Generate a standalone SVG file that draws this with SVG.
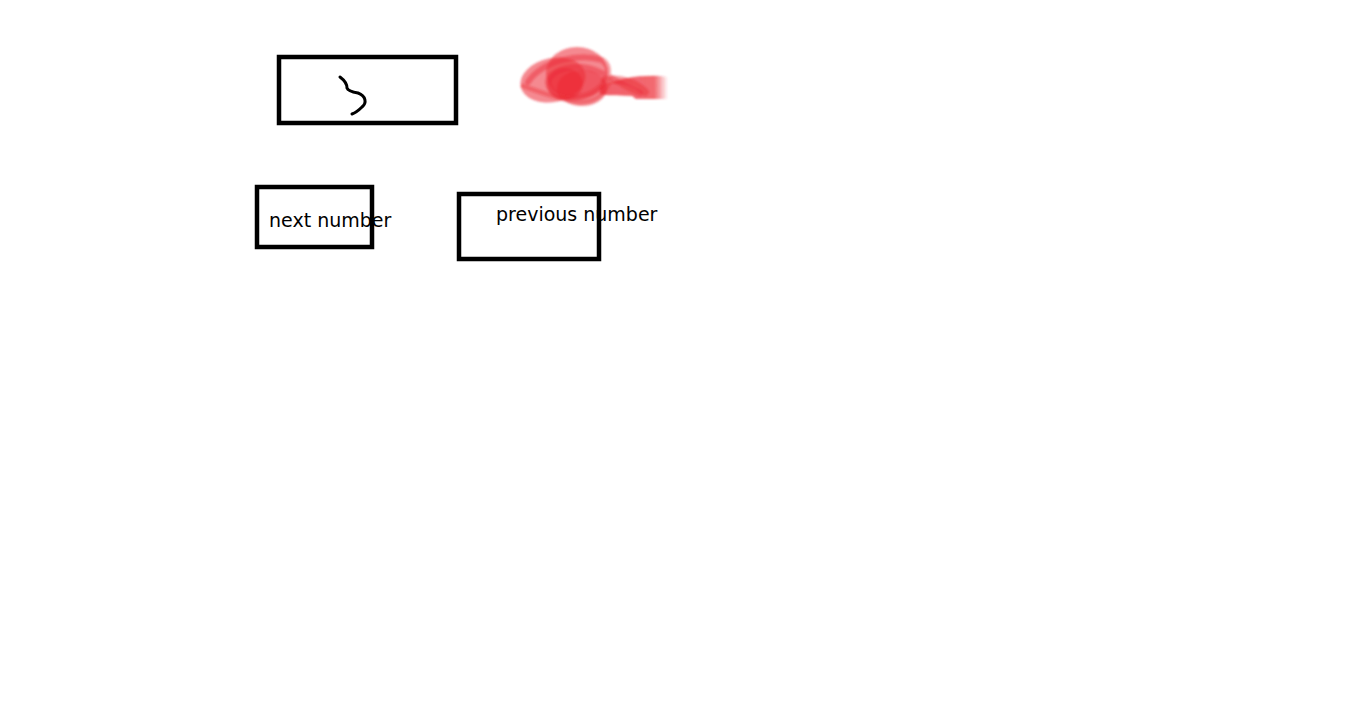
<svg xmlns="http://www.w3.org/2000/svg" width="1360" height="715" viewBox="0 0 1360 715">
<style>
.box{fill:none;stroke:#000;stroke-width:4.5}
.lbl{font-family:"DejaVu Sans",sans-serif;font-size:19px;fill:#000}
.red{fill:none;stroke:#ec2a35;stroke-linecap:round;stroke-linejoin:round}
</style>
<defs>
<linearGradient id="fade" x1="0" y1="0" x2="1" y2="0">
<stop offset="0" stop-color="#ec2a35" stop-opacity="0.75"/>
<stop offset="0.8" stop-color="#ec2a35" stop-opacity="0.7"/>
<stop offset="1" stop-color="#ec2a35" stop-opacity="0"/>
</linearGradient>
<filter id="soft" x="-10%" y="-20%" width="120%" height="140%"><feGaussianBlur stdDeviation="0.8"/></filter>
</defs>
<rect width="1360" height="715" fill="#fff"/>
<g id="node-top">
<rect class="box" x="279" y="57" width="177" height="66"/>
<path d="M340,77 C344,80 347,84 347,88 C348,91 352,92 358,93 C366,96 367,103 362,107 C358,111 355,113 352,114" fill="none" stroke="#000" stroke-width="3" stroke-linecap="round"/>
</g>
<g id="red-scribble" filter="url(#soft)">
<path d="M600,86 C620,78 640,75 660,76 L668,77 L668,99 L636,99 L632,96 C615,95 605,96 600,94 Z" fill="url(#fade)"/>
<ellipse cx="553" cy="80" rx="33" ry="22" fill="#ec2a35" fill-opacity="0.55" transform="rotate(-12 553 80)"/>
<ellipse cx="577" cy="73" rx="31" ry="26" fill="#ec2a35" fill-opacity="0.55"/>
<ellipse cx="582" cy="88" rx="25" ry="18" fill="#ec2a35" fill-opacity="0.5"/>
<ellipse cx="565" cy="84" rx="18" ry="16" fill="#ec2a35" fill-opacity="0.55"/>
<path class="red" d="M528,82 C543,60 580,53 602,60 C614,68 607,86 590,94 C570,102 550,97 548,82 C550,70 575,62 595,70 C615,78 625,88 640,93" stroke-width="6" stroke-opacity="0.45"/>
<path class="red" d="M523,86 C540,92 560,100 580,102 C595,102 605,94 610,80" stroke-width="5" stroke-opacity="0.4"/>
<path class="red" d="M605,80 C620,78 635,82 645,92" stroke-width="8" stroke-opacity="0.45"/>
</g>
<g id="node-next">
<rect class="box" x="257" y="187" width="115" height="60"/>
<text class="lbl" x="269" y="227">next number</text>
</g>
<g id="node-previous">
<rect class="box" x="459" y="194" width="140" height="65"/>
<text class="lbl" x="496" y="221">previous number</text>
</g>
<g id="connectors"></g>
</svg>
